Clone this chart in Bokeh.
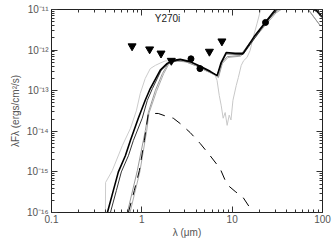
from bokeh.plotting import figure
from bokeh.models import Range1d, LogAxis, LogTicker, CustomJSTickFormatter, Label
from bokeh.embed import file_html
from bokeh.resources import INLINE

# ---- data (wavelength in micron, lambda*F_lambda in erg/cm2/s) ----
lim_wl = [0.78, 1.22, 1.63, 2.12, 5.6, 7.7]
lim_flux = [1.25e-12, 1.05e-12, 8.3e-13, 5.5e-13, 9.2e-13, 1.65e-12]

det_wl = [3.5, 4.4, 23.4]
det_flux = [6.1e-13, 3.5e-13, 4.8e-12]

model1_wl = [0.416, 0.484, 0.55, 0.657, 0.747, 0.914, 1.09, 1.24, 1.60, 1.91, 2.17, 2.66,
             3.43, 4.43, 5.71, 6.82, 7.55, 8.59, 10.8, 13.2, 17.9, 23.2, 31.4, 43.7, 64.0, 86.3, 98.6]
model1_flux = [1e-16, 3.5e-16, 1.0e-15, 2.5e-15, 5.9e-15, 2.1e-14, 5.8e-14, 1.13e-13, 3.2e-13,
               4.7e-13, 5.5e-13, 5.9e-13, 5.2e-13, 4.0e-13, 3.0e-13, 2.35e-13, 4.95e-13, 8.7e-13,
               8.3e-13, 8.3e-13, 2.3e-12, 4.8e-12, 1.12e-11, 1.6e-11, 1.4e-11, 9.4e-12, 6.7e-12]

model2_wl = [0.449, 0.523, 0.593, 0.71, 0.805, 1.01, 1.15, 1.31, 1.64, 1.96, 2.66, 3.43, 4.43,
             5.71, 6.82, 7.55, 8.59, 13.2, 23.2, 31.4, 43.7, 64.0, 86.3, 98.6]
model2_flux = [1e-16, 3.5e-16, 1.0e-15, 2.5e-15, 5.9e-15, 2.1e-14, 5.8e-14, 1.13e-13, 3.2e-13,
               4.7e-13, 5.8e-13, 5.1e-13, 3.9e-13, 2.9e-13, 2.4e-13, 4.6e-13, 8.1e-13, 7.8e-13,
               4.5e-12, 1.0e-11, 1.5e-11, 1.3e-11, 8.8e-12, 6.3e-12]

grey1_wl = [0.692, 0.891, 1.094, 1.18, 1.41, 1.69, 1.96, 2.35, 3.03, 3.90, 5.03, 6.49, 7.0,
            7.74, 8.8, 12.3, 15.8, 21.4, 29.8, 43.7, 64.0, 93.8]
grey1_flux = [1e-16, 1.07e-15, 1.05e-14, 2.9e-14, 1.01e-13, 2.65e-13, 4.7e-13, 5.5e-13, 5.2e-13,
              4.2e-13, 3.2e-13, 2.5e-13, 2.15e-13, 4.95e-13, 6.9e-13, 7.4e-13, 1.55e-12, 3.6e-12,
              8.5e-12, 1.5e-11, 1.25e-11, 4.1e-12]

grey2_wl = [0.74, 0.95, 1.13, 1.2, 1.45, 1.74, 2.0, 2.4, 3.1, 4.0, 5.1, 6.6, 7.05, 7.8, 9.0,
            12.5, 16.0, 22.0, 30.5, 45.0, 66.0, 95.0]
grey2_flux = [1e-16, 1.0e-15, 1.0e-14, 2.8e-14, 9.5e-14, 2.6e-13, 4.6e-13, 5.4e-13, 5.1e-13,
              4.1e-13, 3.1e-13, 2.4e-13, 2.1e-13, 4.7e-13, 6.6e-13, 7.1e-13, 1.5e-12, 3.5e-12,
              8.2e-12, 1.45e-11, 1.2e-11, 3.9e-12]

light_wl = [0.395, 0.397, 0.47, 0.61, 0.747, 0.87, 0.96, 1.09, 1.24, 1.41, 1.60, 1.81, 2.17, 2.66]
light_flux = [1e-16, 5.5e-16, 1.07e-15, 4.5e-15, 1.17e-14, 3.2e-14, 8.5e-14, 2.0e-13, 3.5e-13,
              4.2e-13, 4.8e-13, 5.4e-13, 5.5e-13, 5.8e-13]

spec_wl = [5.0, 5.7, 6.5, 6.8, 7.2, 7.55, 7.95, 8.37, 8.8, 9.27, 9.7, 10.2, 11.1, 11.7, 12.6,
           13.4, 14.6, 15.8, 17.0, 18.9, 20.3, 21.9]
spec_flux = [3.5e-13, 2.8e-13, 2.35e-13, 1.8e-13, 7.6e-14, 4.4e-14, 2.1e-14, 2.9e-14, 1.4e-14,
             2.5e-14, 1.9e-14, 5.8e-14, 1.35e-13, 2.1e-13, 4.2e-13, 5.5e-13, 6.6e-13, 9.8e-13,
             1.95e-12, 4.6e-12, 8.5e-12, 1.3e-11]

star_wl = [0.71, 0.826, 0.938, 1.066, 1.18, 1.52, 1.91, 2.23, 2.66, 3.43, 4.43, 5.71, 7.36,
           8.37, 9.27, 10.8, 13.2, 15.4]
star_flux = [1e-16, 3.5e-16, 1.07e-15, 5.9e-15, 2.75e-14, 2.75e-14, 2.3e-14, 2.1e-14, 1.55e-14,
             9.3e-15, 5.0e-15, 2.5e-15, 1.2e-15, 6.2e-16, 4.4e-16, 3.3e-16, 2.35e-16, 1.4e-16]

x_ticks = [0.1, 1, 10, 100]
y_ticks = [1e-16, 1e-15, 1e-14, 1e-13, 1e-12, 1e-11]

FONT = "Liberation Sans"
LABEL_COLOR = "#555555"

p = figure(width=332, height=240, x_axis_type="log", y_axis_type="log",
           x_range=Range1d(0.1, 100), y_range=Range1d(1e-16, 1e-11),
           output_backend="svg", toolbar_location=None,
           min_border_left=51, min_border_right=10, min_border_top=9, min_border_bottom=28)
p.outline_line_color = "#222222"
p.grid.visible = False
p.background_fill_color = "white"

xfmt = CustomJSTickFormatter(code="""
const e = Math.round(Math.log10(tick));
return e < 0 ? Math.pow(10, e).toFixed(-e) : String(Math.round(Math.pow(10, e)));
""")
yfmt = CustomJSTickFormatter(code="""
const e = Math.round(Math.log10(tick));
const sup = {'-':'\u207b','0':'\u2070','1':'\u00b9','2':'\u00b2','3':'\u00b3','4':'\u2074','5':'\u2075','6':'\u2076','7':'\u2077','8':'\u2078','9':'\u2079'};
return '10' + String(e).split('').map(c => sup[c]).join('');
""")
blankfmt = CustomJSTickFormatter(code="return ' ';")


def style_axis(ax, show_labels):
    ax.ticker = LogTicker(num_minor_ticks=10)
    ax.major_tick_in = 6
    ax.major_tick_out = 0
    ax.minor_tick_in = 3
    ax.minor_tick_out = 0
    ax.axis_line_color = "#222222"
    ax.major_tick_line_color = "#333333"
    ax.minor_tick_line_color = "#333333"
    ax.major_label_text_font = FONT
    ax.major_label_text_font_size = "10px"
    ax.major_label_text_color = LABEL_COLOR
    if show_labels:
        ax.axis_label_text_font = FONT
        ax.axis_label_text_font_size = "10px"
        ax.axis_label_text_color = LABEL_COLOR
        ax.axis_label_text_font_style = "normal"
    else:
        ax.formatter = blankfmt
        ax.major_label_text_font_size = "2px"
        ax.major_label_standoff = 0


style_axis(p.xaxis[0], True)
style_axis(p.yaxis[0], True)
p.xaxis[0].formatter = xfmt
p.yaxis[0].formatter = yfmt
p.xaxis[0].axis_label = "\u03bb (\u03bcm)"
p.yaxis[0].axis_label = "\u03bbF\u03bb (ergs/cm\u00b2/s)"
p.xaxis[0].major_label_standoff = 2
p.xaxis[0].axis_label_standoff = 1
p.yaxis[0].major_label_standoff = 3
p.yaxis[0].axis_label_standoff = 3

top = LogAxis()
style_axis(top, False)
p.add_layout(top, "above")
right = LogAxis()
style_axis(right, False)
p.add_layout(right, "right")

# curves
p.line(light_wl, light_flux, line_color="#cccccc", line_width=1)
p.line(spec_wl, spec_flux, line_color="#c8c8c8", line_width=1)
p.line(grey2_wl, grey2_flux, line_color="#aaaaaa", line_width=1)
p.line(grey1_wl, grey1_flux, line_color="#999999", line_width=1)
p.line(model2_wl, model2_flux, line_color="#333333", line_width=1)
p.line(model1_wl, model1_flux, line_color="black", line_width=1.6)
p.line(star_wl, star_flux, line_color="black", line_width=1, line_dash="10 8")

p.scatter(lim_wl, lim_flux, marker="inverted_triangle", size=8, color="black")
p.scatter(det_wl, det_flux, marker="circle", size=6, color="black")

title = Label(x=116, y=194, x_units="screen", y_units="screen", text="Y270i",
              text_font=FONT, text_font_size="10px", text_color="#222222",
              text_align="center", text_baseline="middle")
p.add_layout(title)

open("out.html", "w").write(file_html(p, INLINE))
